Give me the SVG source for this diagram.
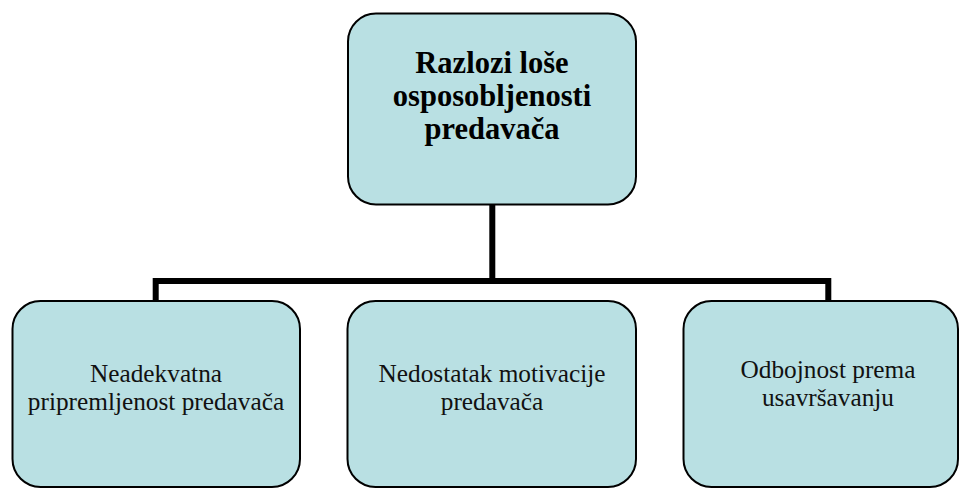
<svg xmlns="http://www.w3.org/2000/svg" width="961" height="488" viewBox="0 0 961 488">
  <style>
    .box { fill: #B9E0E3; stroke: #000; stroke-width: 2; }
    .head { font-weight: bold; font-size: 30.5px; fill: #000; text-anchor: middle; }
    .lbl { font-size: 25.3px; fill: #111; text-anchor: middle; }
    .wire { fill: none; stroke: #000; stroke-width: 6; stroke-linejoin: miter; }
  </style>
  <rect width="961" height="488" fill="#fff"/>

  <g id="connectors">
    <path class="wire" d="M492.3,205 V281"/>
    <path class="wire" d="M155.7,301 V281 H828.3 V301"/>
  </g>

  <g font-family="'Liberation Serif', Tinos, 'Times New Roman', 'DejaVu Serif', serif">
    <g id="root">
      <rect class="box" x="348" y="13.5" width="288" height="191" rx="28" ry="28"/>
      <text class="head" x="492" y="73">Razlozi loše</text>
      <text class="head" x="492" y="106">osposobljenosti</text>
      <text class="head" x="492" y="139">predavača</text>
    </g>

    <g id="cause-preparation">
      <rect class="box" x="12.5" y="301" width="287.5" height="186" rx="28" ry="28"/>
      <text class="lbl" x="156" y="381.5">Neadekvatna</text>
      <text class="lbl" x="156" y="410">pripremljenost predavača</text>
    </g>

    <g id="cause-motivation">
      <rect class="box" x="347.5" y="301" width="288.5" height="186" rx="28" ry="28"/>
      <text class="lbl" x="492" y="381.5">Nedostatak motivacije</text>
      <text class="lbl" x="492" y="410">predavača</text>
    </g>

    <g id="cause-training">
      <rect class="box" x="683.5" y="301" width="274.5" height="186" rx="28" ry="28"/>
      <text class="lbl" x="828" y="378">Odbojnost prema</text>
      <text class="lbl" x="828" y="406">usavršavanju</text>
    </g>
  </g>
</svg>
